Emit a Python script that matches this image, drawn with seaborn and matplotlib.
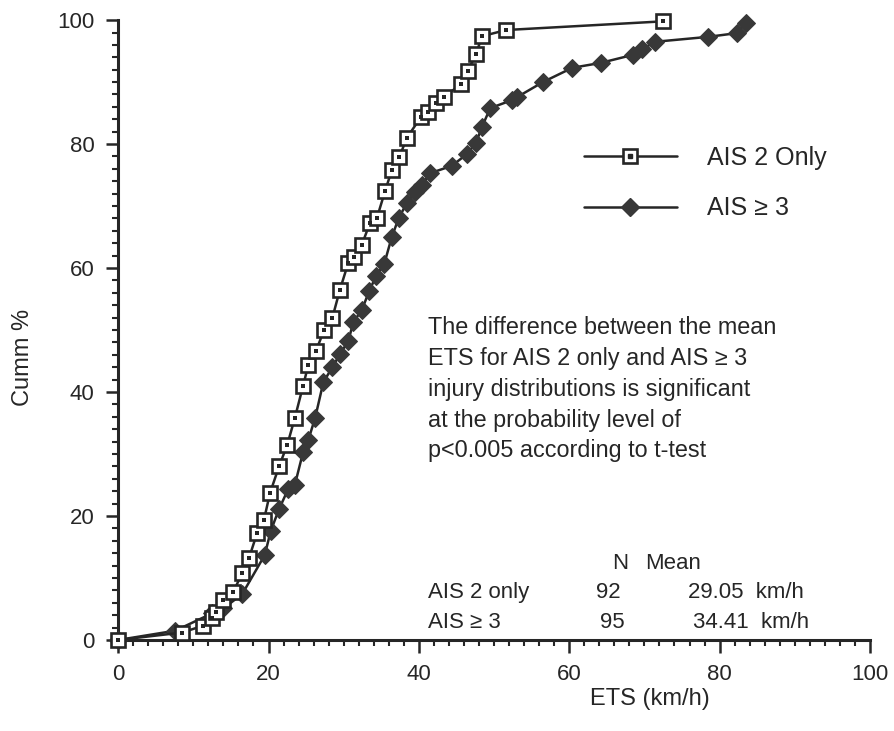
import matplotlib
matplotlib.use("Agg")
import matplotlib.pyplot as plt
from matplotlib.lines import Line2D
from matplotlib.ticker import MultipleLocator
import seaborn as sns
import pandas as pd

# AIS 2 only - cumulative distribution
ais2_ets = [0, 8.5, 11.3, 12.5, 13.0, 14.0, 15.3, 16.5, 17.4, 18.5, 19.4, 20.2,
            21.4, 22.5, 23.5, 24.6, 25.3, 26.3, 27.4, 28.5, 29.5, 30.6, 31.4,
            32.4, 33.5, 34.4, 35.5, 36.4, 37.4, 38.4, 40.3, 41.2, 42.3, 43.4,
            45.6, 46.5, 47.6, 48.4, 51.6, 72.5]
ais2_cum = [0, 1.2, 2.3, 3.5, 4.5, 6.4, 7.7, 10.8, 13.2, 17.3, 19.4, 23.7,
            28.0, 31.5, 35.8, 41.0, 44.4, 46.6, 50.0, 52.0, 56.5, 60.8, 61.8,
            63.7, 67.3, 68.0, 72.4, 75.8, 77.9, 81.0, 84.4, 85.2, 86.6, 87.6,
            89.7, 91.8, 94.5, 97.4, 98.4, 99.8]

# AIS >= 3 - cumulative distribution
ais3_ets = [0, 7.6, 12.5, 14.0, 16.5, 19.5, 20.3, 21.4, 22.6, 23.5, 24.6, 25.3,
            26.2, 27.3, 28.5, 29.5, 30.6, 31.3, 32.4, 33.4, 34.3, 35.4, 36.4,
            37.3, 38.4, 39.5, 40.4, 41.5, 44.4, 46.4, 47.6, 48.4, 49.5, 52.4,
            53.1, 56.5, 60.4, 64.2, 68.5, 69.7, 71.4, 78.5, 82.3, 83.5]
ais3_cum = [0, 1.5, 4.3, 5.1, 7.4, 13.7, 17.6, 21.1, 24.3, 25.0, 30.3, 32.3,
            35.8, 41.6, 44.0, 46.1, 48.2, 51.3, 53.2, 56.3, 58.7, 60.7, 65.0,
            68.0, 70.5, 72.3, 73.4, 75.3, 76.5, 78.4, 80.2, 82.8, 85.8, 87.1,
            87.6, 90.0, 92.3, 93.1, 94.4, 95.3, 96.5, 97.3, 97.9, 99.6]

series_labels = ["AIS 2 Only", "AIS \u2265 3"]
x_ticks = [0, 20, 40, 60, 80, 100]
y_ticks = [0, 20, 40, 60, 80, 100]

note = ("The difference between the mean\n"
        "ETS for AIS 2 only and AIS \u2265 3\n"
        "injury distributions is significant\n"
        "at the probability level of\n"
        "p<0.005 according to t-test")
table_groups = ["AIS 2 only", "AIS \u2265 3"]
table_n = ["92", "95"]
table_mean = ["29.05  km/h", "34.41  km/h"]

ink = "#262626"
diamond_col = "#383838"

sns.set_style("white")
plt.rcParams["font.family"] = ["Liberation Sans", "DejaVu Sans"]
plt.rcParams["text.color"] = ink

df2 = pd.DataFrame({"ets": ais2_ets, "cum": ais2_cum})
df3 = pd.DataFrame({"ets": ais3_ets, "cum": ais3_cum})

fig = plt.figure(figsize=(8.95, 7.31), dpi=100)
ax = fig.add_axes([0.132, 0.1245, 0.840, 0.848])

sns.lineplot(data=df3, x="ets", y="cum", sort=False, estimator=None, ax=ax,
             color=ink, linewidth=1.8, marker="D", markersize=9.5,
             markerfacecolor=diamond_col, markeredgecolor=diamond_col,
             zorder=3, clip_on=False)
sns.lineplot(data=df2, x="ets", y="cum", sort=False, estimator=None, ax=ax,
             color=ink, linewidth=1.8, marker="s", markersize=10.5,
             markerfacecolor="white", markeredgecolor=ink, markeredgewidth=1.9,
             zorder=4, clip_on=False)
sns.scatterplot(data=df2, x="ets", y="cum", ax=ax, marker="s", s=6,
                color=ink, linewidth=0, zorder=5, clip_on=False)

ax.set_xlim(0, 100)
ax.set_ylim(0, 100)
ax.set_xticks(x_ticks)
ax.set_yticks(y_ticks)
ax.xaxis.set_minor_locator(MultipleLocator(2))
ax.yaxis.set_minor_locator(MultipleLocator(2))
ax.tick_params(which="major", direction="out", length=9, width=1.8,
               color=ink, labelsize=16, labelcolor=ink, pad=8)
ax.tick_params(which="minor", direction="out", length=4.5, width=1.5, color=ink)
ax.tick_params(axis="x", which="both", bottom=True)
ax.tick_params(axis="y", which="both", left=True)

for side in ["top", "right"]:
    ax.spines[side].set_visible(False)
for side in ["left", "bottom"]:
    ax.spines[side].set_linewidth(2.2)
    ax.spines[side].set_color(ink)

ax.set_xlabel("ETS (km/h)", fontsize=17, color=ink)
ax.set_ylabel("Cumm %", fontsize=17, color=ink)
ax.xaxis.set_label_coords(0.707, -0.078)
ax.yaxis.set_label_coords(-0.112, 0.456)

# legend
h2 = (Line2D([], [], color=ink, linewidth=1.8, marker="s", markersize=10.5,
             markerfacecolor="white", markeredgecolor=ink, markeredgewidth=1.9),
      Line2D([], [], linestyle="none", marker="s", markersize=2.4, color=ink))
h3 = Line2D([], [], color=ink, linewidth=1.8, marker="D", markersize=9.5,
            markerfacecolor=diamond_col, markeredgecolor=diamond_col)
ax.legend([h2, h3], series_labels, loc="center left",
          bbox_to_anchor=(0.59, 0.737), frameon=False, fontsize=18,
          numpoints=1, handlelength=3.7, handletextpad=1.2, labelspacing=1.05)

# note and summary table
ax.text(41.2, 52.2, note, fontsize=16.8, va="top", ha="left", linespacing=1.43)
ax.text(66.8, 12.4, "N", fontsize=16, ha="center", va="center")
ax.text(73.8, 12.4, "Mean", fontsize=16, ha="center", va="center")
for i, grp in enumerate(table_groups):
    yy = 7.6 - i * 4.7
    ax.text(41.2, yy, grp, fontsize=16, ha="left", va="center")
    ax.text(65.2 + i * 0.5, yy, table_n[i], fontsize=16, ha="center", va="center")
    ax.text(75.8 + i * 0.7, yy, table_mean[i], fontsize=16, ha="left", va="center")

fig.savefig("out.png", dpi=100)
